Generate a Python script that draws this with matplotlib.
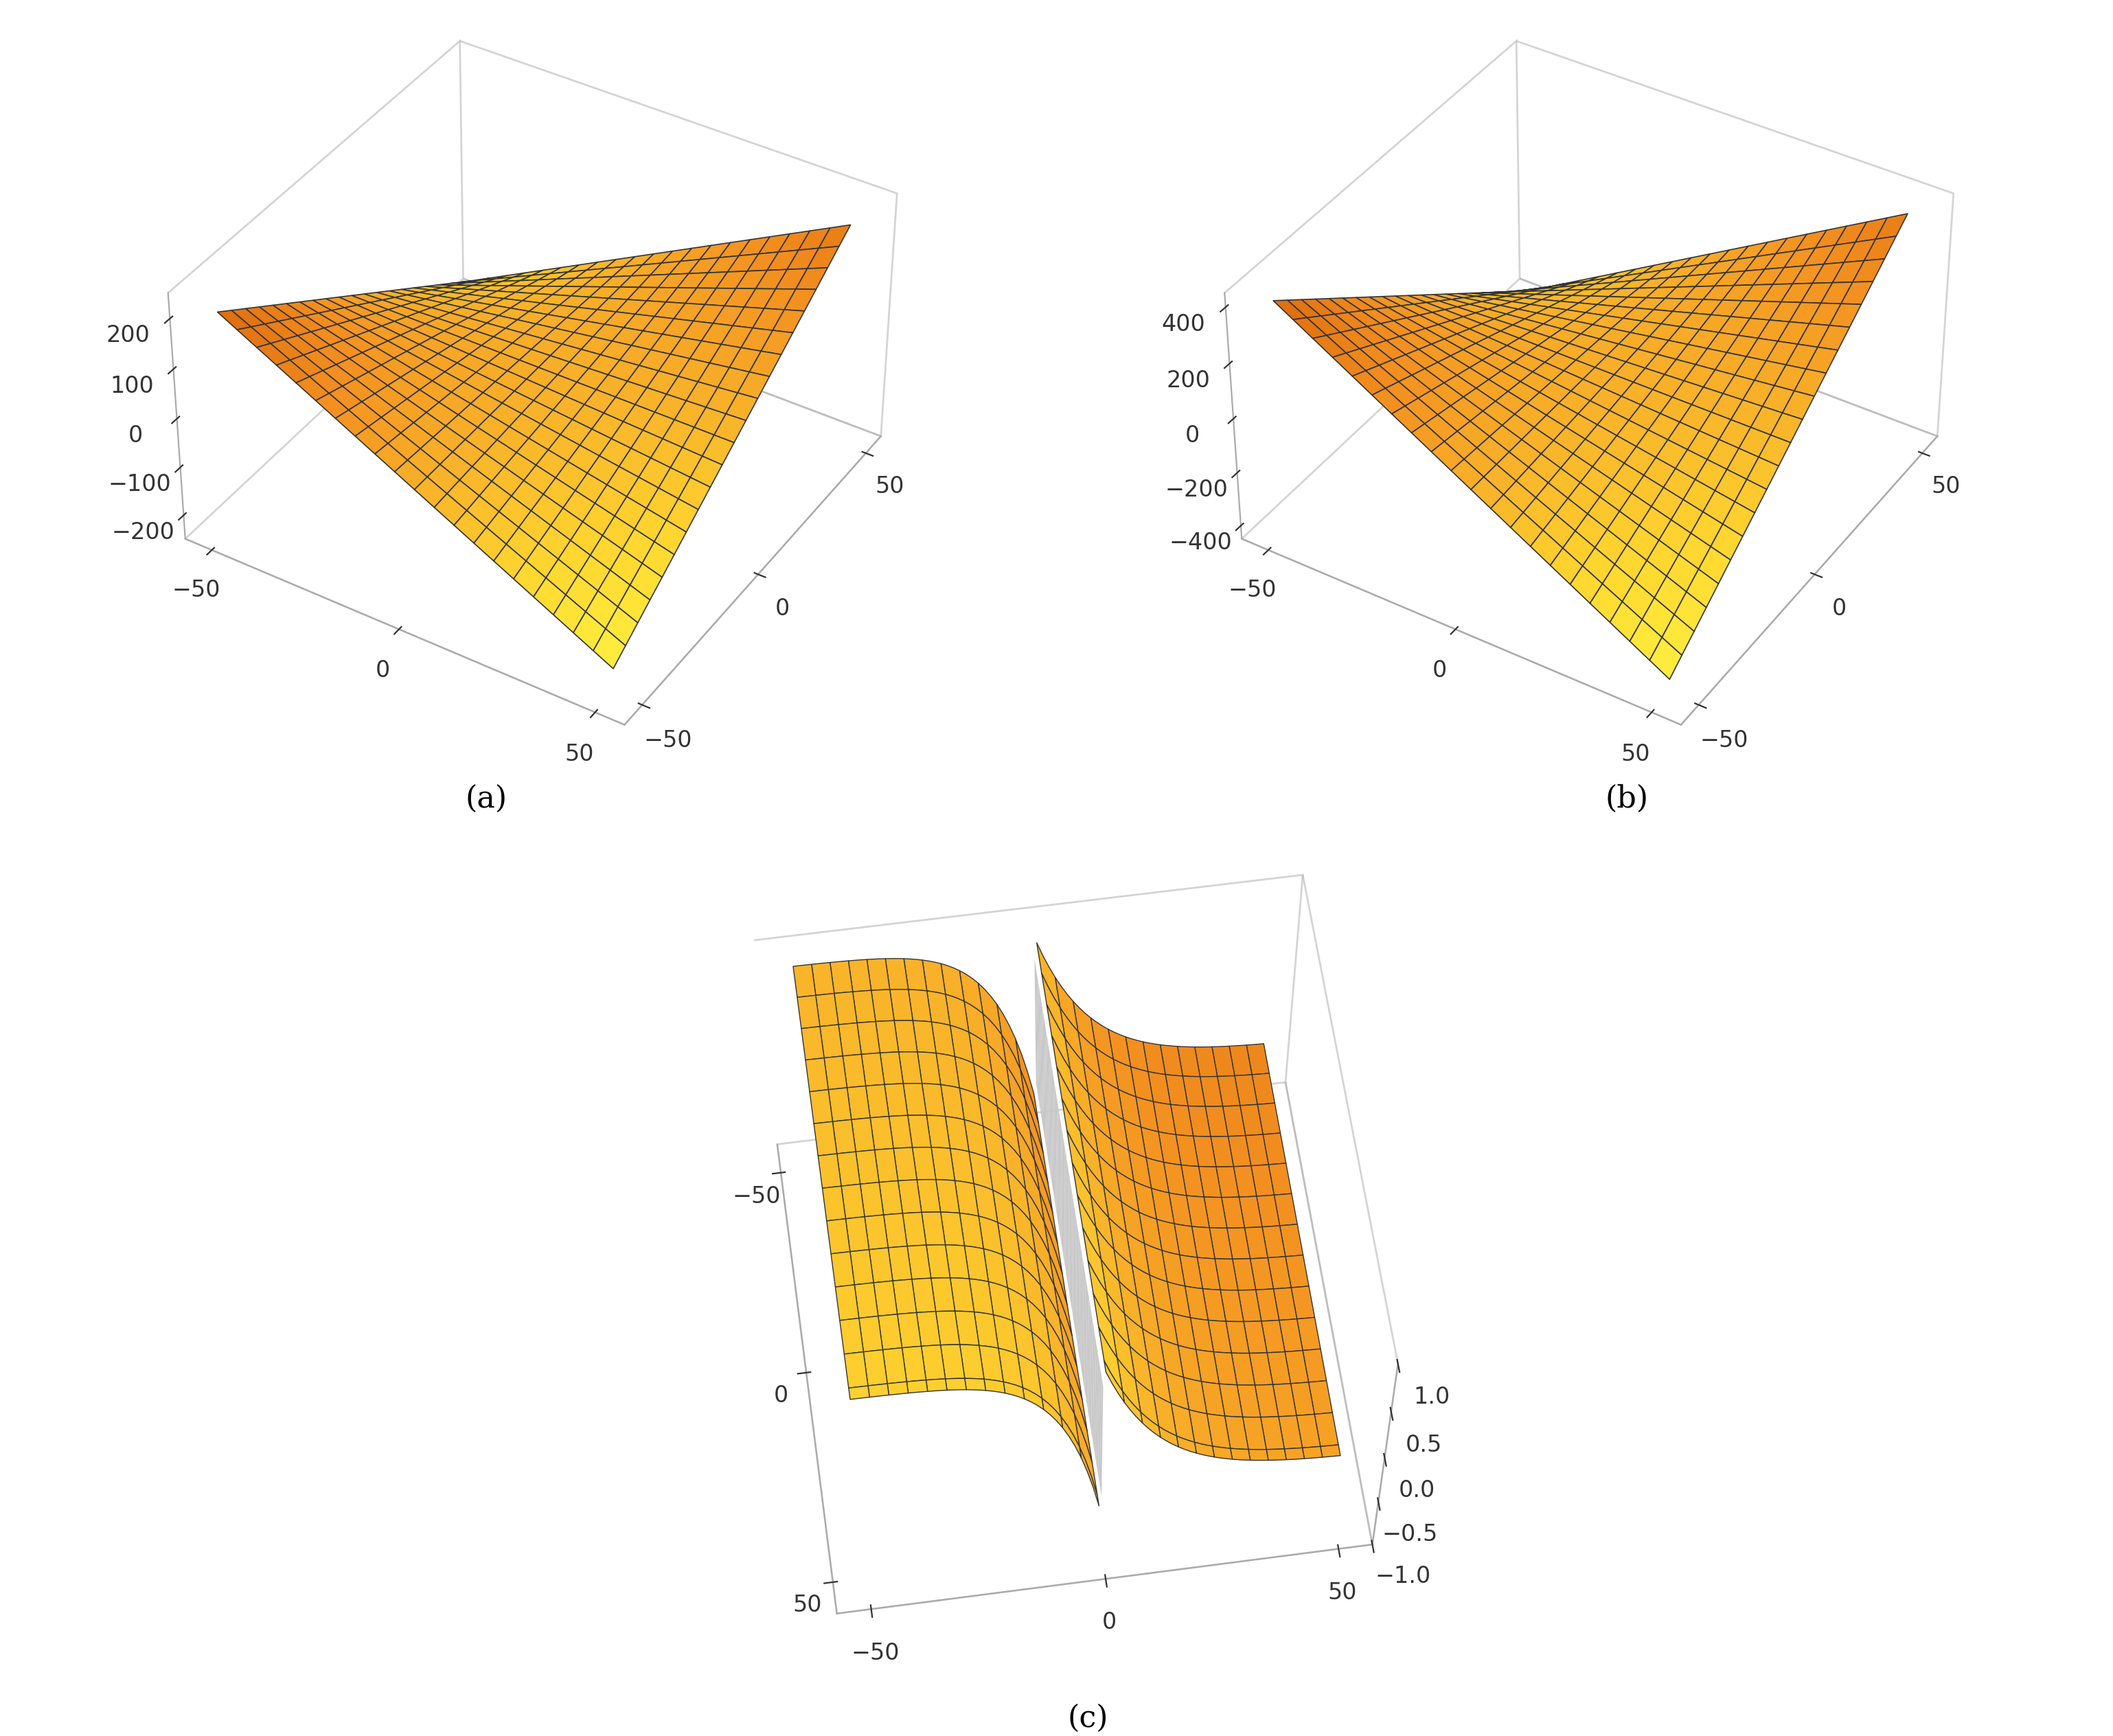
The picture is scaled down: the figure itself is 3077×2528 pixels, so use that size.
import numpy as np
import matplotlib
matplotlib.use("Agg")
import matplotlib.pyplot as plt
from matplotlib.colors import LinearSegmentedColormap

x_ticks = [-50, 0, 50]
y_ticks = [-50, 0, 50]
za_ticks = [-200, -100, 0, 100, 200]
zb_ticks = [-400, -200, 0, 200, 400]
zc_ticks = [-1.0, -0.5, 0.0, 0.5, 1.0]
coef_a = 0.08
coef_b = 0.16
panel_labels = ["(a)", "(b)", "(c)"]

cmap = LinearSegmentedColormap.from_list("mma", ["#e07010", "#f39020", "#f9b42a", "#ffd830", "#fff040"])

n = 21
xs = np.linspace(-50, 50, n)
X, Y = np.meshgrid(xs, xs)

fig = plt.figure(figsize=(15.385, 12.64), dpi=200)

def style(ax):
    ax.xaxis.pane.fill = False; ax.yaxis.pane.fill = False; ax.zaxis.pane.fill = False
    for a in (ax.xaxis, ax.yaxis, ax.zaxis):
        a.pane.set_edgecolor("#aaaaaa")
        a.line.set_color("#aaaaaa")
        a._axinfo["grid"]["linewidth"] = 0
        a._axinfo["tick"]["color"] = "#aaaaaa"
    ax.grid(False)
    ax.tick_params(labelsize=12, colors="#333333")

def surf(ax, Z, light_key):
    norm = (light_key - light_key.min()) / (np.ptp(light_key) + 1e-9)
    ax.plot_surface(X, Y, Z, facecolors=cmap(norm), edgecolor="#333333",
                    linewidth=0.6, rstride=1, cstride=1, shade=False, antialiased=True)

# (a)
ax = fig.add_axes([0.0, 0.565, 0.5, 0.435], projection="3d")
Za = coef_a * X * Y
surf(ax, Za, -Za + 0.6 * X - 0.4 * Y)
ax.set_xticks(x_ticks); ax.set_yticks(y_ticks); ax.set_zticks(za_ticks)
ax.set_zlim(-250, 250)
ax.set_box_aspect((1, 1, 0.6), zoom=1.02)
ax.view_init(elev=38, azim=-58)
style(ax)
ax.zaxis.set_ticks_position('lower')

# (b)
ax = fig.add_axes([0.5, 0.565, 0.5, 0.435], projection="3d")
Zb = coef_b * X * Y
surf(ax, Zb, -Zb + 1.2 * X - 0.8 * Y)
ax.set_xticks(x_ticks); ax.set_yticks(y_ticks); ax.set_zticks(zb_ticks)
ax.set_zlim(-450, 450)
ax.set_box_aspect((1, 1, 0.6), zoom=1.02)
ax.view_init(elev=38, azim=-58)
style(ax)
ax.zaxis.set_ticks_position('lower')

# (c)
ax = fig.add_axes([0.25, 0.03, 0.5, 0.49], projection="3d")
xc = np.linspace(-50, 50, 41)
yl = np.linspace(-50, -0.5, 40)
yr = np.linspace(0.5, 50, 40)
for ys, side in ((yl, "L"), (yr, "R")):
    Xc, Yc = np.meshgrid(xc, ys)
    if side == "L":
        Zc = 1 - 1.6 * np.exp(Yc / 8)
    else:
        Zc = 1.3 * np.exp(-Yc / 12) - 0.3
    Zc = np.clip(Zc, -1, 1)
    norm = (Zc + 0.4 * Xc / 50 + 1.4) / 2.8
    ax.plot_surface(Xc, Yc, Zc, facecolors=cmap(np.clip(0.7 * norm, 0, 1)), edgecolor="#333333",
                    linewidth=0.5, rstride=3, cstride=3, shade=False)
Xw, Zw = np.meshgrid(xc, np.array(zc_ticks)[[0, -1]])
ax.plot_surface(Xw, np.zeros_like(Xw), Zw * 0.6 + 0.2, color="#c8c8c8", shade=False, linewidth=0)
ax.set_xticks(x_ticks); ax.set_yticks(y_ticks); ax.set_zticks(zc_ticks)
ax.set_zlim(-1, 1)
ax.view_init(elev=62, azim=-8)
style(ax)

fig.text(0.23, 0.535, panel_labels[0], fontsize=16, family="serif", ha="center")
fig.text(0.77, 0.535, panel_labels[1], fontsize=16, family="serif", ha="center")
fig.text(0.515, 0.005, panel_labels[2], fontsize=16, family="serif", ha="center")

fig.savefig("out.png", dpi=200)
